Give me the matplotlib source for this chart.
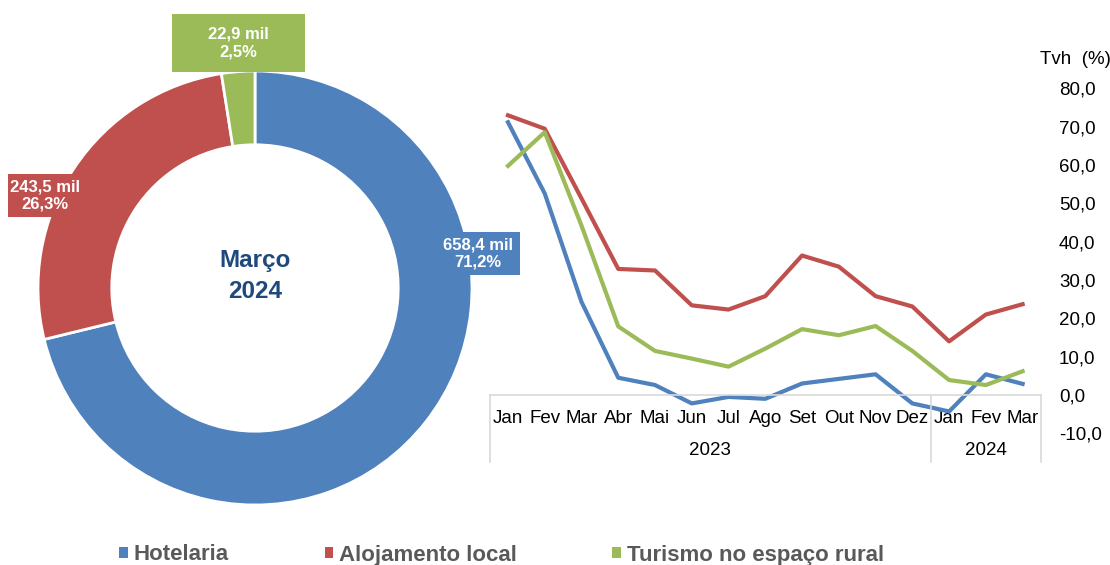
import numpy as np
import matplotlib.pyplot as plt
from matplotlib.patches import Rectangle, Patch
from matplotlib.ticker import FuncFormatter

plt.rcParams['font.family'] = ['Liberation Sans', 'DejaVu Sans']

# dados
categorias = ['Hotelaria', 'Alojamento local', 'Turismo no espaço rural']
hospedes_mil = [658.4, 243.5, 22.9]
meses = ['Jan', 'Fev', 'Mar', 'Abr', 'Mai', 'Jun', 'Jul', 'Ago', 'Set', 'Out', 'Nov', 'Dez',
         'Jan', 'Fev', 'Mar']
anos = ['2023', '2024']
tvh_hotelaria = [71.2, 52.6, 24.3, 4.5, 2.6, -2.2, -0.5, -1.0, 3.0, 4.2, 5.4, -2.2, -4.3, 5.4, 2.9]
tvh_alojamento = [73.0, 69.5, 51.3, 32.9, 32.5, 23.4, 22.3, 25.8, 36.4, 33.5, 25.8, 23.1, 14.0, 21.0, 23.7]
tvh_rural = [59.8, 68.6, 44.2, 17.9, 11.5, 9.5, 7.4, 12.1, 17.2, 15.6, 18.0, 11.5, 3.9, 2.6, 6.2]

cores = ['#4F81BD', '#C0504D', '#9BBB59']
W, H = 1110, 565

fig = plt.figure(figsize=(W/100, H/100), dpi=100)

# ---- linhas ----
left, right = 489.6, 1041
ytop, ybot = 88.5, 433.3
ax = fig.add_axes([left/W, (H-ybot)/H, (right-left)/W, (ybot-ytop)/H])
ax.patch.set_visible(False)
x = np.arange(len(meses))
ax.plot(x, tvh_hotelaria, color=cores[0], lw=3)
ax.plot(x, tvh_alojamento, color=cores[1], lw=3)
ax.plot(x, tvh_rural, color=cores[2], lw=3)
ax.set_xlim(-0.5, len(meses)-0.5)
ax.set_ylim(-10, 80)

for s in ['left', 'right', 'top']:
    ax.spines[s].set_visible(False)
ax.spines['bottom'].set_position(('data', 0))
ax.spines['bottom'].set_color('#D9D9D9')
ax.spines['bottom'].set_linewidth(1.2)

ax.set_xticks(x)
ax.set_xticklabels(meses, fontsize=13.5)
ax.tick_params(axis='x', length=0, pad=11)
ax.yaxis.tick_right()
ax.set_yticks(np.arange(-10, 81, 10))
ax.yaxis.set_major_formatter(FuncFormatter(lambda v, p: f'{v:.1f}'.replace('.', ',')))
ax.tick_params(axis='y', length=0, pad=13, labelsize=13.5)

for xv in [-0.5, 11.5, len(meses)-0.5]:
    ax.plot([xv, xv], [0, -17.5], color='#D9D9D9', lw=1.2, clip_on=False)
ax.text(5.5, -14.4, anos[0], ha='center', va='center', fontsize=13.5)
ax.text(13, -14.4, anos[1], ha='center', va='center', fontsize=13.5)

fig.text(1075/W, 1-60/H, 'Tvh  (%)', ha='center', va='center', fontsize=13.5)

# ---- donut ----
cx, cy, r = 255, 288, 217
axp = fig.add_axes([(cx-r)/W, (H-cy-r)/H, 2*r/W, 2*r/H])
axp.pie(hospedes_mil, colors=cores, startangle=90, counterclock=False,
        wedgeprops=dict(width=0.34, edgecolor='white', linewidth=2))
axp.set_xlim(-1, 1)
axp.set_ylim(-1, 1)

def px(x, y):
    return (x-cx)/r, (cy-y)/r

caixas = [(436, 232, 520, 275), (8, 174, 82, 217), (172, 14, 305, 72)]
total = sum(hospedes_mil)
for v, c, (x0, y0, x1, y1) in zip(hospedes_mil, cores, caixas):
    a0, b1 = px(x0, y0)
    a1, b0 = px(x1, y1)
    axp.add_patch(Rectangle((a0, b0), a1-a0, b1-b0, facecolor=c, edgecolor='none',
                            clip_on=False, zorder=3))
    txt = f'{v:.1f}'.replace('.', ',') + ' mil\n' + f'{100*v/total:.1f}'.replace('.', ',') + '%'
    axp.text((a0+a1)/2, (b0+b1)/2, txt, ha='center', va='center', color='white',
             fontsize=12, fontweight='bold', linespacing=1.2, zorder=4, clip_on=False)

axp.text(0, px(0, 260)[1], 'Março', ha='center', va='center', color='#1F497D',
         fontsize=17.5, fontweight='bold')
axp.text(0, px(0, 292)[1], '2024', ha='center', va='center', color='#1F497D',
         fontsize=17.5, fontweight='bold')

# ---- legenda ----
handles = [Patch(facecolor=c, edgecolor='none') for c in cores]
leg = fig.legend(handles, categorias, loc='center', bbox_to_anchor=(0.452, 1-555/H), ncol=3,
                 frameon=False, handlelength=0.4, handleheight=0.4, handletextpad=0.25,
                 columnspacing=4.3, prop=dict(size=16, weight='bold'))
for t in leg.get_texts():
    t.set_color('#595959')

fig.savefig('out.png', dpi=100)
